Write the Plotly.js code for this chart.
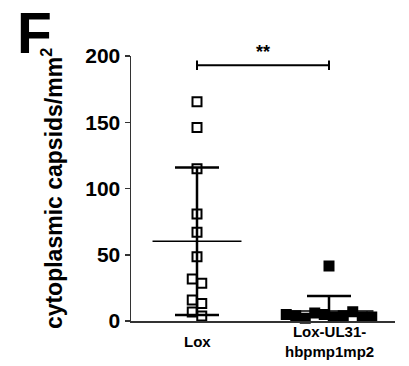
<!DOCTYPE html>
<html>
<head>
<meta charset="utf-8">
<script src="https://cdn.plot.ly/plotly-3.0.1.min.js"></script>
<style>html,body{margin:0;padding:0;background:#fff;}#chart{width:409px;height:366px;}</style>
</head>
<body>
<div id="chart"></div>
<script>
// ---- data ----
const categories = ["Lox", "Lox-UL31-<br>hbpmp1mp2"];
const loxValues = [165.5, 146, 115, 80.8, 67, 48.5, 31.7, 28.4, 15.8, 13.3, 6.8, 3.8];
const mutValues = [41.5, 5, 3, 6, 4, 2, 7, 4, 3, 5, 3];
const yTickVals = [0, 50, 100, 150, 200];
const yTitle = "cytoplasmic capsids/mm<sup>2</sup>";
const panelLabel = "F";
const sigLabel = "**";
const sigBracketY = 193;

// ---- layout constants ----
const W = 409, H = 366;
const M = {l: 131, r: 14, t: 56, b: 45};
const plotW = W - M.l - M.r, plotH = H - M.t - M.b;
const yRange = [0, 200], xRange = [-0.5, 1.5];
const pxY = plotH / (yRange[1] - yRange[0]);
const pxX = plotW / (xRange[1] - xRange[0]);
const FONT = "Liberation Sans, Arial, Helvetica, sans-serif";

function mean(a){return a.reduce((s,v)=>s+v,0)/a.length;}
function sd(a){const m=mean(a);return Math.sqrt(a.reduce((s,v)=>s+(v-m)*(v-m),0)/(a.length-1));}

// simple column-scatter (beeswarm) placement, with each touching cluster centred
function swarm(vals, center){
  const size = 9.5, step = 9.5;
  const placed = [];
  vals.forEach(v=>{
    for(let k=0;k<40;k++){
      const off = k===0 ? 0 : (k%2 ? Math.ceil(k/2) : -k/2)*step;
      const ok = placed.every(p => Math.hypot(p.x-off, (p.y-v)*pxY) >= size);
      if(ok){placed.push({x:off,y:v}); break;}
    }
  });
  // cluster by vertical proximity
  const idx = placed.map((p,i)=>i).sort((a,b)=>placed[a].y-placed[b].y);
  const clusters = [];
  let cur = [idx[0]];
  for(let j=1;j<idx.length;j++){
    if((placed[idx[j]].y - placed[idx[j-1]].y)*pxY < size) cur.push(idx[j]);
    else {clusters.push(cur); cur=[idx[j]];}
  }
  clusters.push(cur);
  clusters.forEach(c=>{
    const xs = c.map(i=>placed[i].x);
    const mid = (Math.min(...xs)+Math.max(...xs))/2;
    c.forEach(i=>placed[i].x -= mid);
  });
  return placed.map(p=>center + p.x/pxX);
}

const groups = [
  {vals: loxValues, symbol: "square-open"},
  {vals: mutValues, symbol: "square"}
];

const traces = [];
groups.forEach((g,i)=>{
  const m = mean(g.vals), s = sd(g.vals);
  // error bar (mean ± SD)
  traces.push({
    type: "scatter", mode: "markers",
    x: [i], y: [m],
    marker: {size: 1, color: "rgba(0,0,0,0)"},
    error_y: {type: "data", symmetric: true, array: [s], color: "#000", thickness: 2.5, width: 22},
    cliponaxis: true, hoverinfo: "skip", showlegend: false
  });
  // mean line
  traces.push({
    type: "scatter", mode: "lines",
    x: [i-0.337, i+0.337], y: [m, m],
    line: {color: "#000", width: 1.5},
    cliponaxis: false, hoverinfo: "skip", showlegend: false
  });
  // points
  traces.push({
    type: "scatter", mode: "markers",
    x: swarm(g.vals, i), y: g.vals,
    marker: {symbol: g.symbol, size: 9, color: "#000", line: {color: "#000", width: 2}},
    cliponaxis: false, hoverinfo: "skip", showlegend: false
  });
});

const annotations = categories.map((c,i)=>({
  x: i, xref: "x", y: -20/plotH, yref: "paper",
  text: "<b>"+c+"</b>", showarrow: false, xanchor: "center", yanchor: "middle",
  font: {family: FONT, size: 15, color: "#000"}
}));
annotations.push({
  x: -97/plotW, xref: "paper", y: 1 + 23/plotH, yref: "paper",
  text: "<b>"+panelLabel+"</b>", showarrow: false, xanchor: "center", yanchor: "middle",
  font: {family: FONT, size: 57, color: "#000"}
});
annotations.push({
  x: 0.5, xref: "x", y: sigBracketY, yref: "y", yshift: 1,
  text: "<b>"+sigLabel+"</b>", showarrow: false, xanchor: "center", yanchor: "bottom",
  font: {family: FONT, size: 18, color: "#000"}
});

const shapes = [
  {type: "line", xref: "x", yref: "y", x0: 0, x1: 1, y0: sigBracketY, y1: sigBracketY, line: {color: "#000", width: 2}},
  {type: "line", xref: "x", yref: "y", x0: 0, x1: 0, y0: sigBracketY-3.6, y1: sigBracketY+3.6, line: {color: "#000", width: 2}},
  {type: "line", xref: "x", yref: "y", x0: 1, x1: 1, y0: sigBracketY-3.6, y1: sigBracketY+3.6, line: {color: "#000", width: 2}}
];

const layout = {
  width: W, height: H,
  margin: M,
  paper_bgcolor: "#fff", plot_bgcolor: "#fff",
  showlegend: false,
  xaxis: {
    range: xRange, showgrid: false, zeroline: false,
    showline: true, linecolor: "#333", linewidth: 1.5,
    ticks: "", showticklabels: false, fixedrange: true
  },
  yaxis: {
    range: yRange, showgrid: false, zeroline: false,
    showline: true, linecolor: "#333", linewidth: 1.5,
    ticks: "outside", ticklen: 5, tickwidth: 1.5, tickcolor: "#333",
    tickvals: yTickVals, ticktext: yTickVals.map(String),
    tickfont: {family: FONT, size: 21, color: "#000", weight: "bold"},
    title: {text: "<b>"+yTitle+"</b>", font: {family: FONT, size: 23, color: "#000"}, standoff: 16},
    fixedrange: true
  },
  annotations: annotations,
  shapes: shapes
};

Plotly.newPlot("chart", traces, layout, {displayModeBar: false, staticPlot: true});
</script>
</body>
</html>
